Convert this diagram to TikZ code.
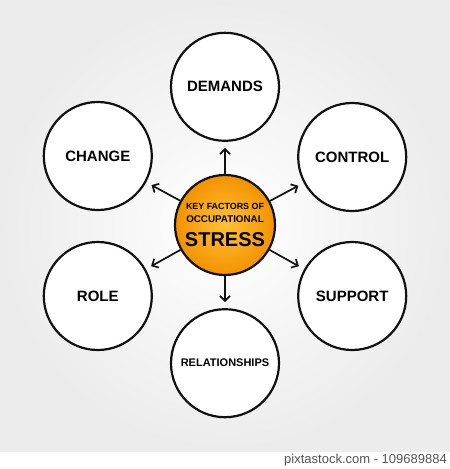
\documentclass[tikz,border=0pt]{standalone}
\usepackage{fontspec}
\setmainfont{Liberation Sans}
\usepackage{xcolor}
\usetikzlibrary{arrows.meta, positioning}
\definecolor{ink}{HTML}{111111}
\definecolor{orangein}{HTML}{FFC238}
\definecolor{orangeout}{HTML}{F39200}
\definecolor{bggray}{HTML}{ECECEC}
\definecolor{muted}{HTML}{555555}
\tikzset{
  factor/.style={
    circle, draw=ink, fill=white, line width=2.2pt,
    minimum size=108pt, inner sep=0pt,
    align=center, font=\bfseries\fontsize{15}{17}\selectfont
  },
  hub/.style={
    circle, draw=ink, line width=2.2pt,
    inner color=orangein, outer color=orangeout,
    minimum size=100pt, inner sep=0pt, align=center,
    font=\bfseries\fontsize{8.9}{12}\selectfont
  },
  arrow/.style={-{Straight Barb[length=5pt,width=10pt]}, line width=1.7pt, draw=ink,
                shorten >=6pt},
}

\begin{document}
\begin{tikzpicture}[node distance=32pt]
  \useasboundingbox (0,0) rectangle (450pt,-469pt);
  \shade[inner color=white, outer color=bggray] (0,0) rectangle (450pt,-451pt);

  \node[hub] (stress) at (225pt,-225pt)
    {KEY FACTORS OF\\[1pt]
     {\fontsize{9.8}{12}\selectfont OCCUPATIONAL}\\[8pt]
     {\fontsize{20}{20}\selectfont STRESS}};

  \node[factor, above=of stress] (demands) {DEMANDS};
  \node[factor, below=of stress, font=\bfseries\fontsize{11}{13}\selectfont] (relationships) {RELATIONSHIPS};
  \node[factor, left=21pt of stress, yshift=69pt] (change) {CHANGE};
  \node[factor, right=21pt of stress, yshift=68pt] (control) {CONTROL};
  \node[factor, left=21pt of stress, yshift=-71pt] (role) {ROLE};
  \node[factor, right=21pt of stress, yshift=-71pt] (support) {SUPPORT};

  \foreach \f in {demands, change, control, role, support, relationships}
    \draw[arrow] (stress) -- (\f);

  \node[anchor=south east, text=muted, font=\fontsize{13}{13}\selectfont, inner sep=0pt]
    (credit) at (447pt,-466pt) {pixtastock.com - 109689884};
\end{tikzpicture}
\end{document}
